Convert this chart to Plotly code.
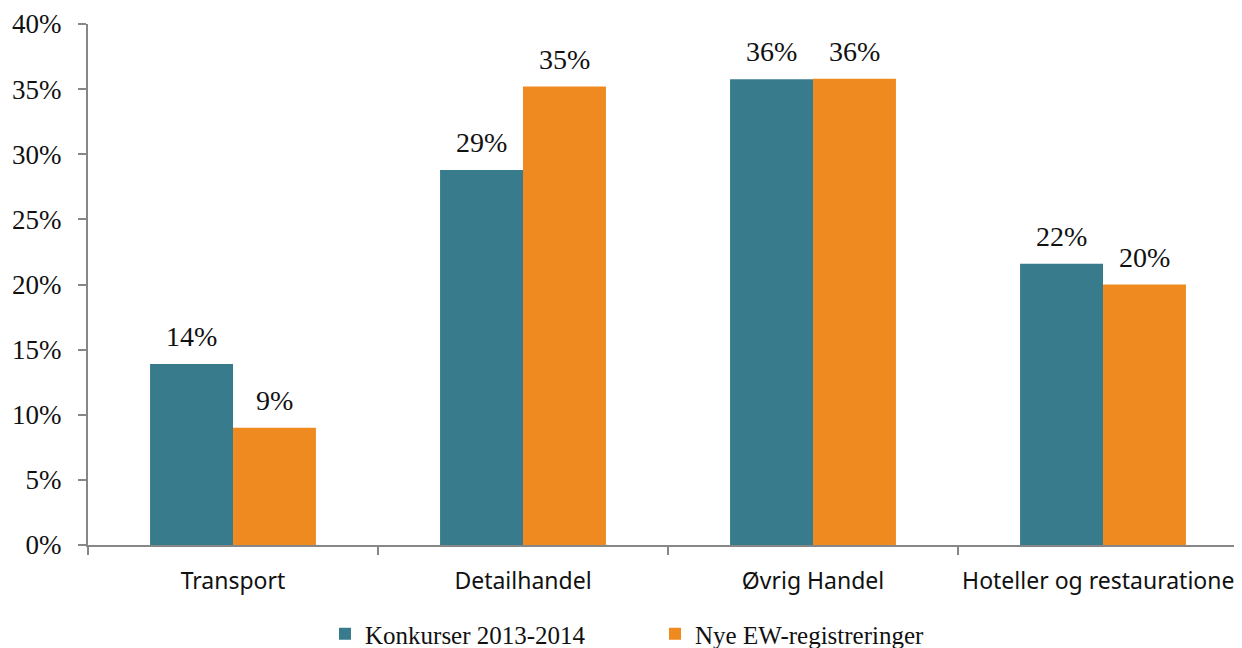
import plotly.graph_objects as go

# Data
categories = ["Transport", "Detailhandel", "Øvrig Handel", "Hoteller og restaurationer"]
konkurser = [13.9, 28.8, 35.75, 21.6]
nye_ew = [9.0, 35.2, 35.8, 20.0]
series_names = ["Konkurser 2013-2014", "Nye EW-registreringer"]
y_ticks = [0, 5, 10, 15, 20, 25, 30, 35, 40]
y_ticktext = [f"{v}%" for v in y_ticks]

TEAL = "#387B8C"
ORANGE = "#EE8A20"
SERIF = "Liberation Serif"
SANS = "Noto Sans"

# page body has an 8px default margin, so the figure is a bit smaller
W, H = 1234, 640

fig = go.Figure()

for name, vals, col in [(series_names[0], konkurser, TEAL), (series_names[1], nye_ew, ORANGE)]:
    fig.add_trace(
        go.Bar(
            name=name,
            x=categories,
            y=vals,
            marker=dict(color=col, line=dict(width=0)),
        )
    )

# value labels above the bars
for vals, shift in [(konkurser, -41.5), (nye_ew, 41.5)]:
    for cat, v in zip(categories, vals):
        fig.add_annotation(
            x=cat,
            y=v,
            text=f"{v:.0f}%",
            showarrow=False,
            xshift=shift,
            yshift=10,
            yanchor="bottom",
            font=dict(family=SERIF, size=28, color="#111111"),
        )

fig.update_layout(
    width=W,
    height=H,
    barmode="group",
    bargap=0.428,
    bargroupgap=0,
    plot_bgcolor="white",
    paper_bgcolor="white",
    margin=dict(l=80, r=0, t=16, b=103, autoexpand=False),
    showlegend=True,
    legend=dict(
        orientation="h",
        x=(655 - 88) / 1154,
        xanchor="center",
        y=-(634 - 545) / 521,
        yanchor="middle",
        font=dict(family=SERIF, size=25, color="#111111"),
        itemwidth=30,
        entrywidth=285,
        entrywidthmode="pixels",
        traceorder="normal",
    ),
)

fig.update_xaxes(
    type="category",
    range=[-0.5, -0.5 + 1154 / 290],
    automargin=False,
    showline=True,
    linecolor="#878787",
    linewidth=2,
    ticks="outside",
    tickson="boundaries",
    ticklen=8,
    tickwidth=2,
    tickcolor="#878787",
    ticklabelstandoff=14,
    tickfont=dict(family=SANS, size=23, color="#111111"),
    showgrid=False,
    zeroline=False,
)

fig.update_yaxes(
    range=[0, 40],
    automargin=False,
    tickvals=y_ticks,
    ticktext=y_ticktext,
    showline=True,
    linecolor="#878787",
    linewidth=2,
    ticks="outside",
    ticklen=8,
    tickwidth=2,
    tickcolor="#878787",
    ticklabelstandoff=11,
    tickfont=dict(family=SERIF, size=27, color="#111111"),
    showgrid=False,
    zeroline=False,
)

fig.write_html("out.html")
